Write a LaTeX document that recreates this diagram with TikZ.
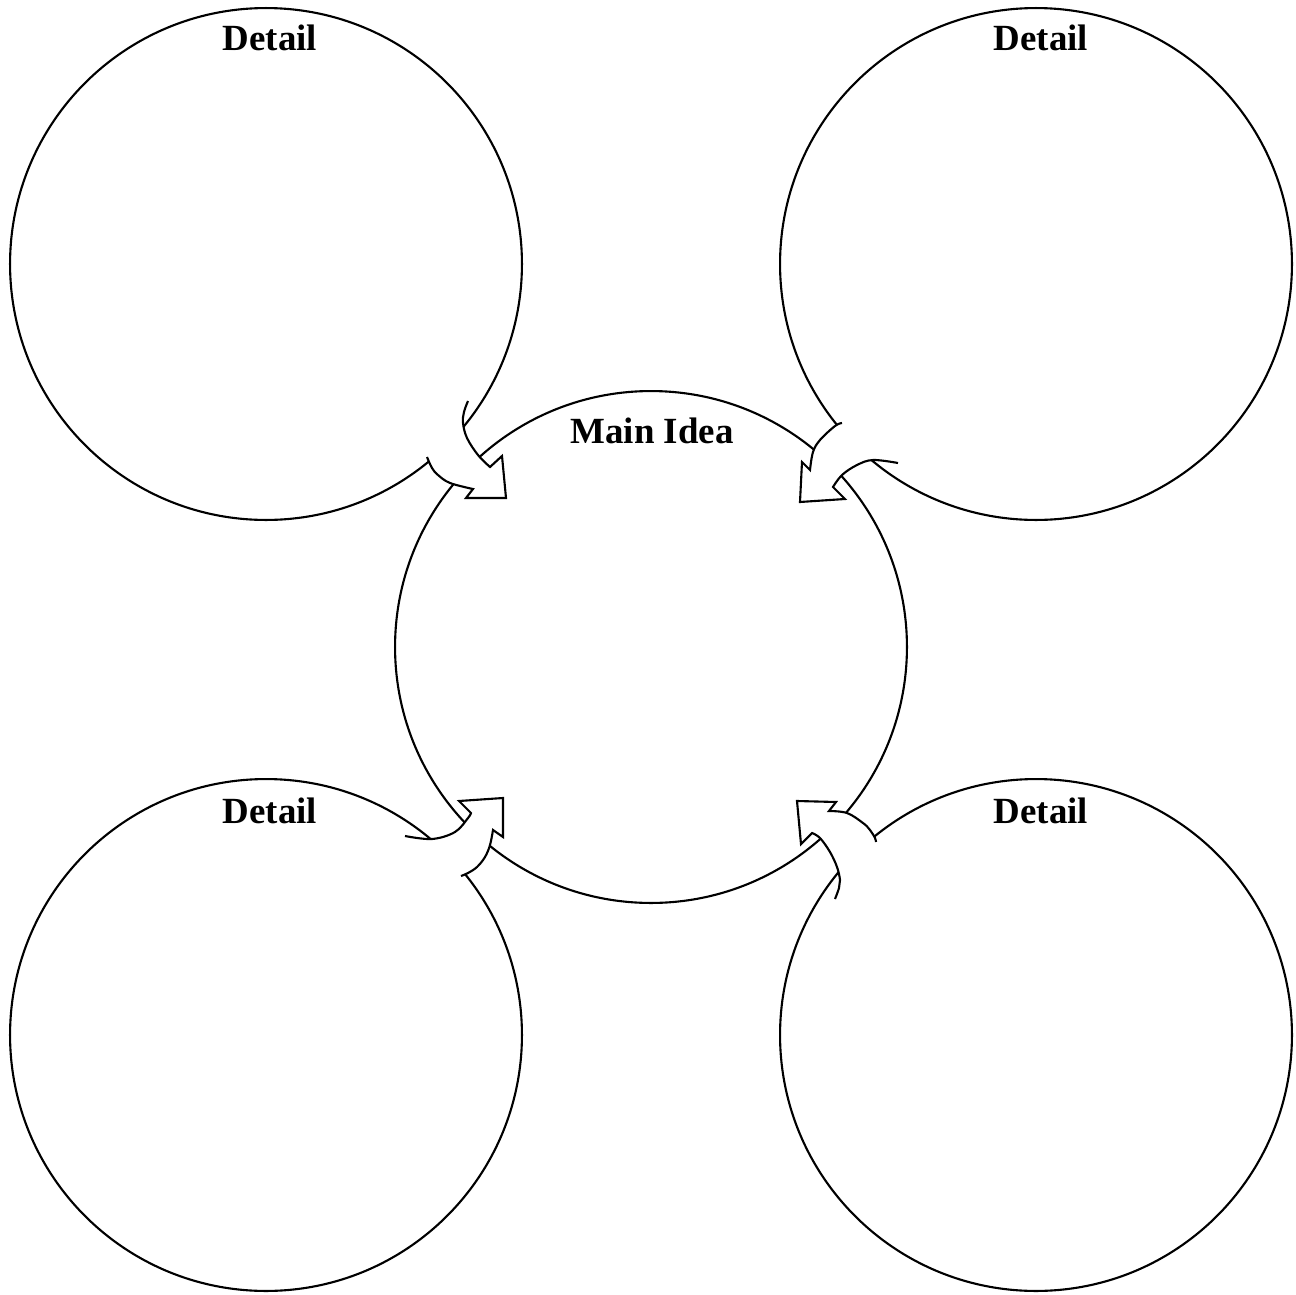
\documentclass[tikz,border=0pt]{standalone}
\usepackage{fontspec}
\setmainfont{Liberation Serif}
\begin{document}
\begin{tikzpicture}[x=0.02cm,y=-0.02cm,
  bubble/.style={circle, draw, line width=1.2pt, minimum size=10.24cm, inner sep=0pt},
  lbl/.style={anchor=base, inner sep=0pt, font=\fontsize{21}{25}\selectfont\bfseries},
  barrow/.style={line width=1.2pt, line join=miter}]
\useasboundingbox (0,0) rectangle (1296,1295);
% circles
\node[bubble] (tl) at (266,264) {};
\node[bubble] (tr) at (1036,264) {};
\node[bubble] (bl) at (266,1035) {};
\node[bubble] (br) at (1036,1035) {};
\node[bubble] (c) at (651,647) {};
% top-left arrow
\fill[white] plot[smooth,tension=0.6] coordinates {(468,401) (464,412) (463,423) (467,438) (478,455) (490,467)}
  -- (502,456) -- (506,498) -- (466,498) -- (473,489)
  -- plot[smooth,tension=0.6] coordinates {(473,489) (450,483) (438,475) (432,468) (427,457)} -- cycle;
\draw[barrow] plot[smooth,tension=0.6] coordinates {(468,401) (464,412) (463,423) (467,438) (478,455) (490,467)}
  -- (502,456) -- (506,498) -- (466,498) -- (473,489)
  -- plot[smooth,tension=0.6] coordinates {(473,489) (450,483) (438,475) (432,468) (427,457)};
% top-right arrow
\fill[white] plot[smooth,tension=0.6] coordinates {(842,423) (835,426) (820,440) (813,452) (810,470)}
  -- (802,462) -- (800,502) -- (845,499) -- (833,487)
  -- plot[smooth,tension=0.6] coordinates {(833,487) (842,475) (857,465) (873,460) (898,463)} -- cycle;
\draw[barrow] plot[smooth,tension=0.6] coordinates {(842,423) (835,426) (820,440) (813,452) (810,470)}
  -- (802,462) -- (800,502) -- (845,499) -- (833,487)
  -- plot[smooth,tension=0.6] coordinates {(833,487) (842,475) (857,465) (873,460) (898,463)};
% bottom-left arrow
\fill[white] plot[smooth,tension=0.6] coordinates {(405,836) (432,839) (455,832) (468,818) (471,813)}
  -- (459,801) -- (503,798) -- (503,837) -- (493,830)
  -- plot[smooth,tension=0.6] coordinates {(493,830) (490,845) (485,857) (477,867) (468,873) (461,876)} -- cycle;
\draw[barrow] plot[smooth,tension=0.6] coordinates {(405,836) (432,839) (455,832) (468,818) (471,813)}
  -- (459,801) -- (503,798) -- (503,837) -- (493,830)
  -- plot[smooth,tension=0.6] coordinates {(493,830) (490,845) (485,857) (477,867) (468,873) (461,876)};
% bottom-right arrow
\fill[white] plot[smooth,tension=0.6] coordinates {(876,842) (875,838) (870,830) (863,823) (847,813) (829,811)}
  -- (836,802) -- (797,801) -- (801,844) -- (812,833)
  -- plot[smooth,tension=0.6] coordinates {(812,833) (820,838) (830,852) (837,867) (840,880) (839,888) (835,899)} -- cycle;
\draw[barrow] plot[smooth,tension=0.6] coordinates {(876,842) (875,838) (870,830) (863,823) (847,813) (829,811)}
  -- (836,802) -- (797,801) -- (801,844) -- (812,833)
  -- plot[smooth,tension=0.6] coordinates {(812,833) (820,838) (830,852) (837,867) (840,880) (839,888) (835,899)};
% labels
\node[lbl] (ltl) at (270,50) {Detail};
\node[lbl] (ltr) at (1041,50) {Detail};
\node[lbl] (lbl1) at (270,823) {Detail};
\node[lbl] (lbr) at (1041,823) {Detail};
\node[lbl] (lc) at (652,443) {Main Idea};
\end{tikzpicture}
\end{document}
